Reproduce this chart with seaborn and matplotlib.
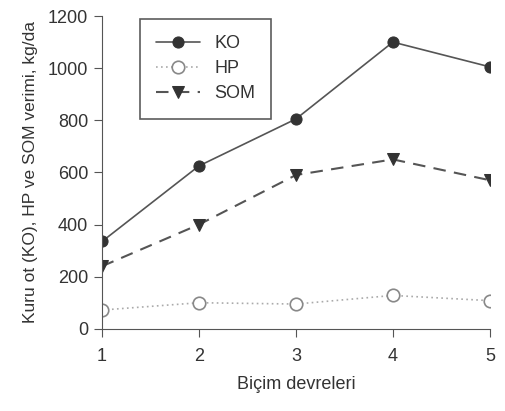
import matplotlib
matplotlib.use("Agg")
import matplotlib.pyplot as plt
import seaborn as sns
import pandas as pd

sns.set_style("ticks")
plt.rcParams['font.family'] = ['Liberation Sans', 'DejaVu Sans']

cuts = [1, 2, 3, 4, 5]
ko = [335, 625, 805, 1100, 1005]
hp = [72, 100, 95, 128, 108]
som = [240, 400, 590, 650, 570]

df = pd.DataFrame({
    "cut": cuts * 3,
    "value": ko + hp + som,
    "series": ["KO"] * 5 + ["HP"] * 5 + ["SOM"] * 5,
})

fig = plt.figure(figsize=(5.05, 4.11), dpi=100)
ax = fig.add_axes([0.202, 0.2, 0.768, 0.761])

styles = {
    "KO": dict(color="#555555", linestyle="-", marker="o", markerfacecolor="#333333",
               markeredgecolor="#333333", linewidth=1.2, markersize=8),
    "HP": dict(color="#aaaaaa", linestyle=(0, (1, 2)), marker="o", markerfacecolor="white",
               markeredgecolor="#888888", linewidth=1.2, markersize=9, markeredgewidth=1.2),
    "SOM": dict(color="#555555", linestyle=(0, (6, 4)), marker="v", markerfacecolor="#333333",
                markeredgecolor="#333333", linewidth=1.5, markersize=8),
}
for name in ["KO", "HP", "SOM"]:
    sub = df[df["series"] == name]
    sns.lineplot(data=sub, x="cut", y="value", ax=ax, label=name, **styles[name])

ax.set_xlim(1, 5)
ax.set_ylim(0, 1200)
ax.set_xticks(cuts)
ax.set_yticks(range(0, 1201, 200))
ax.tick_params(axis="both", labelsize=13, direction="out", length=6, color="#555555")
ax.tick_params(axis="x", pad=8)
ax.tick_params(axis="y", pad=4)
for s in ["top", "right"]:
    ax.spines[s].set_visible(False)
for s in ["left", "bottom"]:
    ax.spines[s].set_color("#555555")
ax.spines["left"].set_bounds(0, 1200)
ax.set_xlabel("Biçim devreleri", fontsize=13, labelpad=8, color="#333333")
ax.set_ylabel("Kuru ot (KO), HP ve SOM verimi, kg/da", fontsize=12.5, labelpad=7, color="#333333")
for lab in ax.get_xticklabels() + ax.get_yticklabels():
    lab.set_color("#333333")

leg = ax.legend(loc="upper left", bbox_to_anchor=(0.075, 1.02), frameon=True, fancybox=False,
                edgecolor="#333333", fontsize=13, handlelength=2.4, borderpad=0.9,
                labelspacing=0.45, handletextpad=0.8)
leg.get_frame().set_linewidth(1.2)
for t in leg.get_texts():
    t.set_color("#333333")

fig.savefig("out.png", dpi=100)
